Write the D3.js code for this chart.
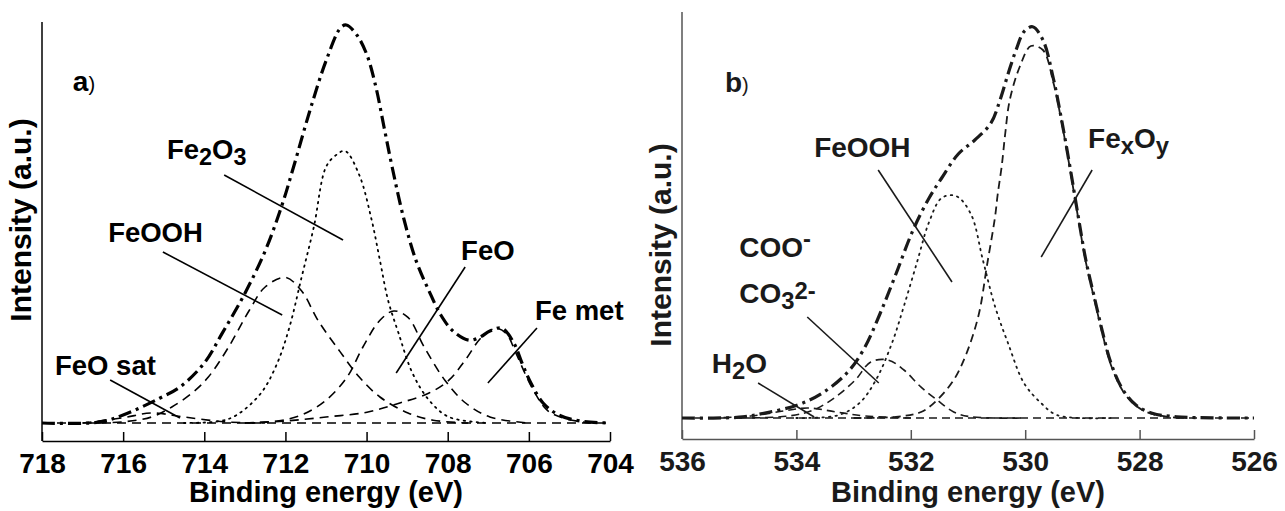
<!DOCTYPE html>
<meta charset="utf-8">
<style>
body { margin: 0; background: #fff; }
svg { display: block; font-family: "Liberation Sans", Arial, sans-serif; }
.tick text { font-weight: bold; }
.lbl { font-weight: bold; }
</style>
<svg width="1285" height="511"></svg>
<script src="https://d3js.org/d3.v7.min.js"></script>
<script>

// ---- panel a : Fe 2p  [energy (eV), intensity (a.u.)] ----
var aTicks = [718, 716, 714, 712, 710, 708, 706, 704];
var aEnvelope = [[718,0],[716.6,0.2],[716.0,2],[715.1,6.2],[714.6,9],[714.0,15],[713.56,22.4],[713.0,32.4],
  [712.5,43],[712.1,54],[711.8,64],[711.4,78],[711.0,90.5],[710.64,98.8],[710.5,99.5],[710.24,97],
  [709.99,92],[709.77,84],[709.57,74],[709.37,64],[709.08,51],[708.78,40.6],[708.46,33],[708.17,27],
  [707.87,23],[707.47,20.7],[707.2,21.5],[706.96,23],[706.66,23.7],[706.37,20],[706.17,15],[705.95,10],
  [705.65,5],[705.26,2],[704.74,0.5],[704,0]];
var aFe2O3 = [[714.5,0],[713.6,0.5],[713.2,2],[712.6,7.5],[712.2,15],[711.9,24],[711.6,36.5],[711.3,49],
  [711.0,64],[710.75,67],[710.53,68],[710.18,62],[709.88,51],[709.67,40.6],[709.47,30.7],[709.21,22.4],
  [708.87,12.5],[708.46,5.7],[707.97,1.5],[707,0]];
var aFeOOH = [[717,0],[716,0.3],[715.3,1.5],[714.8,4],[714.3,7.5],[713.9,11.5],[713.4,19],[712.9,28],
  [712.5,34],[712.0,36.4],[711.6,33],[711.2,25.7],[710.68,18.2],[710.18,11.5],[709.67,6.5],[708.98,2.5],
  [708.36,0.7],[707.5,0]];
var aFeO = [[713,0],[712.2,0.5],[711.6,2],[711.0,5.7],[710.48,11.5],[710.09,19],[709.67,25.7],[709.33,28],
  [708.98,26.4],[708.58,19],[708.07,10.7],[707.56,5],[706.96,1.5],[706,0]];
var aFeMet = [[713,0],[712.0,0.5],[711.0,1.5],[709.99,2.7],[709.18,5],[708.46,7.5],[707.97,10.7],
  [707.57,15.7],[707.16,21.5],[706.81,23.7],[706.56,22.4],[706.32,17.5],[706.1,12.5],[705.85,7.5],
  [705.55,3.2],[705.15,1.2],[704.5,0]];
var aFeOsat = [[717,0],[716,1.3],[715.3,2.5],[714.5,1.5],[713.5,0.3],[712.5,0]];
var aBase = [[718,0],[704,0]];

// ---- panel b : O 1s ----
var bTicks = [536, 534, 532, 530, 528, 526];
var bEnvelope = [[536,0],[535.0,0.2],[534.57,1.2],[533.99,3.2],[533.55,6.2],[533.12,11.2],[532.83,17],
  [532.54,26],[532.26,36],[531.96,47],[531.68,55],[531.46,60],[531.17,66],[530.88,69.5],[530.6,73.7],
  [530.44,79.5],[530.3,86],[530.16,92],[530.02,96.6],[529.87,97.8],[529.69,94.5],[529.51,85],[529.37,75],
  [529.22,63],[529.08,51],[528.94,39.5],[528.78,29.5],[528.64,21],[528.5,13.7],[528.29,7],[528.06,3.2],
  [527.78,1.2],[527.35,0.3],[526,0]];
var bFexOy = [[533,0],[532.26,0.3],[531.82,1.5],[531.54,4.5],[531.25,9.5],[531.03,16],[530.81,26],
  [530.67,38],[530.53,50],[530.48,56],[530.41,63],[530.35,71],[530.27,79.5],[530.09,88],[529.9,93],
  [529.69,92],[529.51,84],[529.37,74.5],[529.22,62.5],[529.08,50.5],[528.94,39],[528.78,29],[528.64,20.5],
  [528.5,13.2],[528.29,6.7],[528.06,3],[527.78,1],[527.3,0]];
var bFeOOH = [[534,0],[533.27,0.7],[532.9,3.7],[532.61,9.5],[532.33,18.7],[532.12,28],[531.89,39],
  [531.68,49],[531.46,55],[531.21,55.5],[530.95,51],[530.74,39.5],[530.53,28],[530.3,18.7],[530.02,8.7],
  [529.72,3.7],[529.44,0.7],[528.5,0]];
var bCO3 = [[535,0],[534.13,0.5],[533.7,2],[533.34,5],[532.97,9.5],[532.7,14],[532.4,14.5],[532.12,12],
  [531.82,7.7],[531.54,4.5],[531.25,1.5],[530.95,0.3],[530,0]];
var bH2O = [[535.5,0],[534.8,0.5],[534.2,1.8],[533.8,2.5],[533.3,1.5],[532.8,0.5],[532,0]];
var bBase = [[536,0],[526,0]];

var svg = d3.select("svg");

function panel(o) {
  var g = svg.append("g");
  var x = d3.scaleLinear().domain(o.xdom).range([o.left, o.right]);
  var y = d3.scaleLinear().domain([-(o.axisY - o.baseY) / 4, (o.baseY - o.top) / 4]).range([o.axisY, o.top]);

  // y axis line (no ticks)
  g.append("line").attr("x1", o.left).attr("x2", o.left).attr("y1", o.top).attr("y2", o.axisY)
    .attr("stroke", o.axisColor).attr("stroke-width", 1.5);

  var ax = g.append("g").attr("transform", "translate(0," + o.axisY + ")")
    .call(d3.axisBottom(x).tickValues(o.ticks).tickSize(-9).tickSizeOuter(0).tickPadding(12).tickFormat(d3.format("d")));
  ax.select(".domain").attr("stroke", o.axisColor).attr("stroke-width", 1.5);
  ax.selectAll(".tick line").attr("stroke", o.axisColor).attr("stroke-width", 1.5);
  ax.selectAll(".tick text").attr("font-size", 28).attr("fill", o.textColor)
    .attr("font-family", "Liberation Sans, Arial, sans-serif");

  g.append("text").attr("class", "lbl").attr("x", (o.left + o.right) / 2).attr("y", 502)
    .attr("text-anchor", "middle").attr("font-size", 29).attr("fill", o.textColor)
    .text("Binding energy (eV)");
  g.append("text").attr("class", "lbl").attr("transform", "translate(" + o.yLabX + "," + o.yLabY + ") rotate(-90)")
    .attr("text-anchor", "middle").attr("font-size", 30).attr("fill", o.textColor)
    .text("Intensity (a.u.)");

  var line = d3.line().x(function(d) { return x(d[0]); }).y(function(d) { return y(d[1]); })
    .curve(d3.curveCatmullRom);

  o.curves.forEach(function(c) {
    g.append("path").datum(c.data).attr("d", line)
      .attr("fill", "none").attr("stroke", o.lineColor)
      .attr("stroke-width", c.w).attr("stroke-dasharray", c.dash)
      .attr("stroke-linecap", c.cap || "butt");
  });

  o.leaders.forEach(function(l) {
    g.append("line").attr("x1", x(l[0])).attr("y1", y(l[1])).attr("x2", x(l[2])).attr("y2", y(l[3]))
      .attr("stroke", o.lineColor).attr("stroke-width", 1.6);
  });

  o.labels.forEach(function(l) {
    var fs = l.size || o.labSize;
    var t = g.append("text").attr("class", "lbl").attr("x", x(l.e)).attr("y", y(l.v))
      .attr("font-size", fs).attr("fill", o.textColor);
    l.parts.forEach(function(p) {
      var ts = t.append("tspan").text(p[0]);
      if (p[1] == "sub") ts.attr("dy", 6).attr("font-size", fs * 0.85);
      if (p[1] == "up") ts.attr("dy", -6);
      if (p[1] == "sup") ts.attr("dy", -10).attr("font-size", fs * 0.85);
      if (p[1] == "small") ts.attr("font-weight", "normal").attr("font-size", 20);
    });
  });
  return g;
}

var envDash = "13,5,3,5", dashA = "9,6", dotA = "1.5,5";

panel({
  xdom: [718, 704], left: 42, right: 610, top: 22, axisY: 441, baseY: 423,
  yLabX: 31, yLabY: 220, labSize: 27.5,
  ticks: aTicks, axisColor: "#000", textColor: "#000", lineColor: "#000",
  curves: [
    {data: aBase, w: 1.6, dash: dashA},
    {data: aFeOsat, w: 1.6, dash: dashA},
    {data: aFeOOH, w: 1.6, dash: dashA},
    {data: aFeO, w: 1.6, dash: dashA},
    {data: aFeMet, w: 1.6, dash: dashA},
    {data: aFe2O3, w: 1.8, dash: dotA, cap: "round"},
    {data: aEnvelope, w: 3.2, dash: envDash}
  ],
  leaders: [[713.51,62,710.58,45.75],[715.02,42.75,712.08,27],[707.57,39,709.27,12.5],
            [705.8,23.75,707.01,10],[716.32,10.75,714.6,1.25]],
  labels: [
    {e: 714.92, v: 66, parts: [["Fe"],["2","sub"],["O","up"],["3","sub"]]},
    {e: 716.37, v: 45.25, parts: [["FeOOH"]]},
    {e: 707.67, v: 40.75, parts: [["FeO"]]},
    {e: 705.85, v: 25.75, parts: [["Fe met"]]},
    {e: 717.68, v: 12, parts: [["FeO sat"]]},
    {e: 717.24, v: 83, size: 28, parts: [["a"],[")","small"]]}
  ]
});

panel({
  xdom: [536, 526], left: 682, right: 1254, top: 12, axisY: 439, baseY: 418,
  yLabX: 671, yLabY: 245, labSize: 28,
  ticks: bTicks, axisColor: "#555", textColor: "#1a1a1a", lineColor: "#1a1a1a",
  curves: [
    {data: bBase, w: 1.6, dash: "8,5"},
    {data: bH2O, w: 1.6, dash: "8,5"},
    {data: bCO3, w: 1.6, dash: "8,5"},
    {data: bFexOy, w: 1.8, dash: "8,5"},
    {data: bFeOOH, w: 1.8, dash: dotA, cap: "round"},
    {data: bEnvelope, w: 3.2, dash: envDash}
  ],
  leaders: [[532.57,62,531.28,34],[528.83,62,529.72,40.25],[533.81,25.25,532.56,8.75],[534.67,8.75,533.69,0.25]],
  labels: [
    {e: 533.69, v: 65.25, parts: [["FeOOH"]]},
    {e: 528.9, v: 67.5, parts: [["Fe"],["x","sub"],["O","up"],["y","sub"]]},
    {e: 535.0, v: 40.25, parts: [["COO"],["-","sup"]]},
    {e: 535.0, v: 28.75, parts: [["CO"],["3","sub"],["2-","sup"]]},
    {e: 535.48, v: 11.25, parts: [["H"],["2","sub"],["O","up"]]},
    {e: 535.25, v: 81.5, size: 28, parts: [["b"],[")","small"]]}
  ]
});

</script>
